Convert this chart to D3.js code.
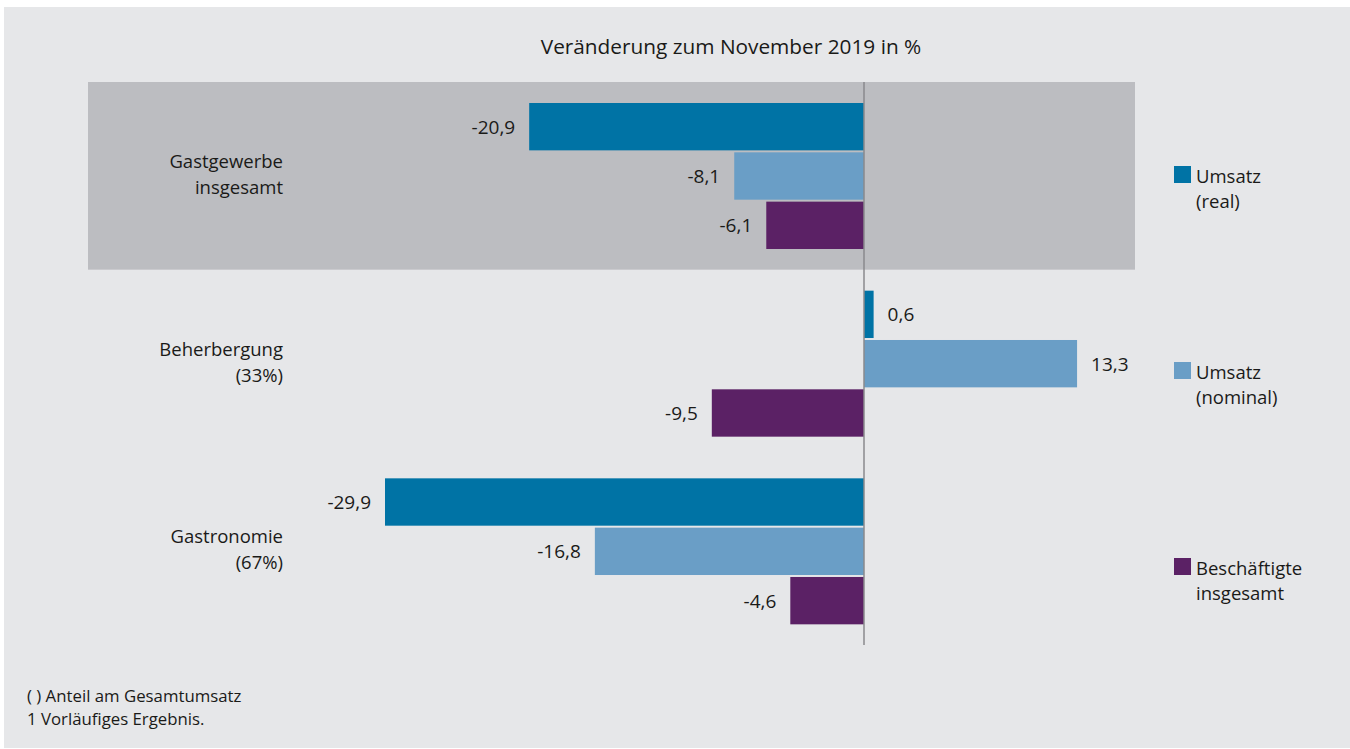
<!DOCTYPE html>
<html>
<head>
<meta charset="utf-8">
<script src="https://cdn.jsdelivr.net/npm/d3@7"></script>
<style>
  body { margin: 0; background: #fff; }
  svg { display: block; font-family: "Open Sans", "Noto Sans", sans-serif; }
</style>
</head>
<body>
<svg id="chart" width="1350" height="749"></svg>
<script>
// categories (top to bottom), with second label line
var categories = ["Gastgewerbe insgesamt", "Beherbergung", "Gastronomie"];
var categoryLines = [["Gastgewerbe", "insgesamt"], ["Beherbergung", "(33%)"], ["Gastronomie", "(67%)"]];

var seriesNames = ["Umsatz (real)", "Umsatz (nominal)", "Beschäftigte insgesamt"];
var legendLines = [["Umsatz", "(real)"], ["Umsatz", "(nominal)"], ["Beschäftigte", "insgesamt"]];

var umsatzReal = [-20.9, 0.6, -29.9];
var umsatzNominal = [-8.1, 13.3, -16.8];
var beschaeftigte = [-6.1, -9.5, -4.6];

var titleText = "Veränderung zum November 2019 in %";
var footnotes = ["( ) Anteil am Gesamtumsatz", "1 Vorläufiges Ergebnis."];

var colors = ["#0073a5", "#6a9ec6", "#5b2165"];

var svg = d3.select("#chart");

// background panel
svg.append("rect").attr("x", 4).attr("y", 7).attr("width", 1346).attr("height", 741).attr("fill", "#e6e7e9");

var seriesValues = [umsatzReal, umsatzNominal, beschaeftigte];
var data = [];
categories.forEach(function (c, i) {
  seriesNames.forEach(function (s, j) {
    data.push({ cat: c, series: s, idx: j, value: seriesValues[j][i] });
  });
});

var pxPerUnit = 16.02;
var x = d3.scaleLinear().domain([-30, 14]).range([864 - 30 * pxPerUnit, 864 + 14 * pxPerUnit]);
var y = d3.scaleBand().domain(categories).range([82, 645]).padding(0);
var yInner = d3.scaleBand().domain(seriesNames).range([21, 167]).paddingInner(0.04);

// highlighted band for first category
svg.append("rect")
  .attr("x", 88)
  .attr("width", 1135 - 88)
  .attr("y", y(categories[0]))
  .attr("height", y.bandwidth())
  .attr("fill", "#bcbdc1");

// title
svg.append("text")
  .attr("x", 731).attr("y", 54)
  .attr("text-anchor", "middle")
  .attr("font-size", 20.8)
  .attr("fill", "#1a1a18")
  .text(titleText);

// bars
var bars = svg.append("g");
bars.selectAll("rect")
  .data(data)
  .enter().append("rect")
  .attr("x", function (d) { return x(Math.min(0, d.value)); })
  .attr("width", function (d) { return Math.abs(x(d.value) - x(0)); })
  .attr("y", function (d) { return y(d.cat) + yInner(d.series); })
  .attr("height", yInner.bandwidth())
  .attr("fill", function (d) { return colors[d.idx]; });

// zero line
svg.append("line")
  .attr("x1", x(0)).attr("x2", x(0))
  .attr("y1", 82).attr("y2", 645)
  .attr("stroke", "#8a8a8c").attr("stroke-width", 1.5);

// value labels
var fmt = function (v) { return d3.format(".1f")(v).replace(".", ",").replace("−", "-"); };
bars.selectAll("text")
  .data(data)
  .enter().append("text")
  .attr("x", function (d) { return d.value < 0 ? x(d.value) - 14 : x(d.value) + 14; })
  .attr("y", function (d) { return y(d.cat) + yInner(d.series) + yInner.bandwidth() / 2 + 7; })
  .attr("text-anchor", function (d) { return d.value < 0 ? "end" : "start"; })
  .attr("font-size", 19)
  .attr("fill", "#1a1a18")
  .text(function (d) { return fmt(d.value); });

// category labels
categories.forEach(function (c, i) {
  var cy = y(c) + y.bandwidth() / 2;
  var t = svg.append("text")
    .attr("text-anchor", "end")
    .attr("font-size", 18.5)
    .attr("fill", "#1a1a18");
  categoryLines[i].forEach(function (line, k) {
    t.append("tspan").attr("x", 283).attr("y", cy - 8 + k * 26).text(line);
  });
});

// legend
var legendY = [166, 362, 558];
seriesNames.forEach(function (s, j) {
  var g = svg.append("g").attr("transform", "translate(1174," + legendY[j] + ")");
  g.append("rect").attr("width", 17).attr("height", 17).attr("fill", colors[j]);
  legendLines[j].forEach(function (line, k) {
    g.append("text")
      .attr("x", 22).attr("y", 17 + k * 25)
      .attr("font-size", 18.5)
      .attr("fill", "#1a1a18")
      .text(line);
  });
});

// footnotes
footnotes.forEach(function (f, k) {
  svg.append("text")
    .attr("x", 27).attr("y", 702 + k * 23)
    .attr("font-size", 16.8)
    .attr("fill", "#1a1a18")
    .text(f);
});
</script>
</body>
</html>
